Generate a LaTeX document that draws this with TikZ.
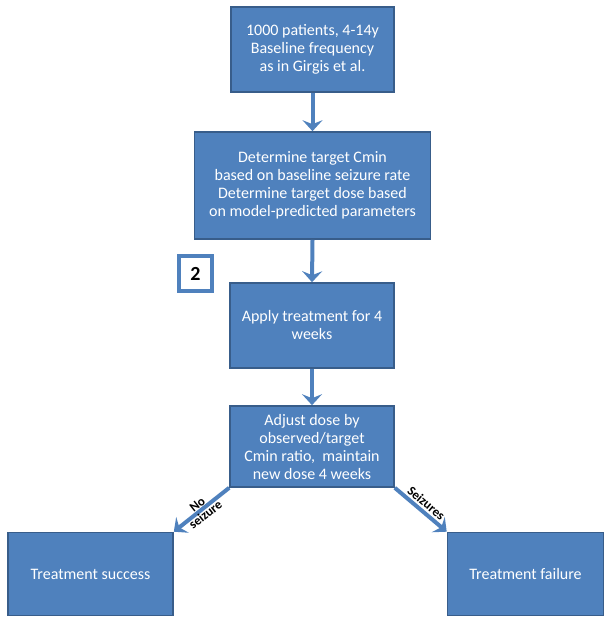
\documentclass[tikz,border=0pt]{standalone}
\usepackage{fontspec}
\setmainfont{Carlito}
\usetikzlibrary{arrows.meta}
\definecolor{boxblue}{HTML}{4F81BD}
\definecolor{boxedge}{HTML}{385D8A}
\begin{document}
\begin{tikzpicture}[x=1pt,y=-1pt,
  flowbox/.style={draw=boxedge, line width=1.6pt, fill=boxblue, text=white,
    inner sep=0pt, align=center, font=\fontsize{16}{18}\selectfont},
  flowarrow/.style={draw=boxblue, line width=4pt,
    -{Stealth[length=11pt,width=20pt,inset=4pt]}},
  arrowlabel/.style={font=\fontsize{13}{13}\selectfont\bfseries, text=black, inner sep=1pt, align=center}]
\useasboundingbox (0,0) rectangle (605,617);
\node[flowbox, minimum width=163pt, minimum height=85pt] (b1) at (312.5,49.5)
  {1000 patients, 4-14y\\Baseline frequency\\as in Girgis et al.};
\node[flowbox, minimum width=236pt, minimum height=107pt] (b2) at (312.5,185.5)
  {Determine target Cmin\\based on baseline seizure rate\\Determine target dose based\\on model-predicted parameters};
\node[flowbox, minimum width=164pt, minimum height=85pt] (b3) at (312,325.5)
  {Apply treatment for 4\\weeks};
\node[flowbox, minimum width=164pt, minimum height=81pt] (b4) at (312,446.5)
  {Adjust dose by\\observed/target\\Cmin ratio,\ \ maintain\\new dose 4 weeks};
\node[flowbox, minimum width=165pt, minimum height=83pt] (b5) at (90.5,574)
  {Treatment success};
\node[flowbox, minimum width=156pt, minimum height=83pt] (b6) at (525.5,574)
  {Treatment failure};
\node[draw=boxblue, line width=4pt, fill=white, minimum width=33pt, minimum height=35pt,
  inner sep=0pt, font=\fontsize{20}{22}\selectfont\bfseries] (n2) at (195.5,273.5) {2};
\draw[flowarrow] (b1.south) -- (b2.north);
\draw[flowarrow] (b2.south) -- (b3.north);
\draw[flowarrow] (b3.south) -- (b4.north);
\draw[flowarrow] (b4.south west) -- node[arrowlabel, sloped] {No\\seizure} (b5.north east);
\draw[flowarrow] (b4.south east) -- node[arrowlabel, sloped, above=1pt] {Seizures} (b6.north west);
\end{tikzpicture}
\end{document}
